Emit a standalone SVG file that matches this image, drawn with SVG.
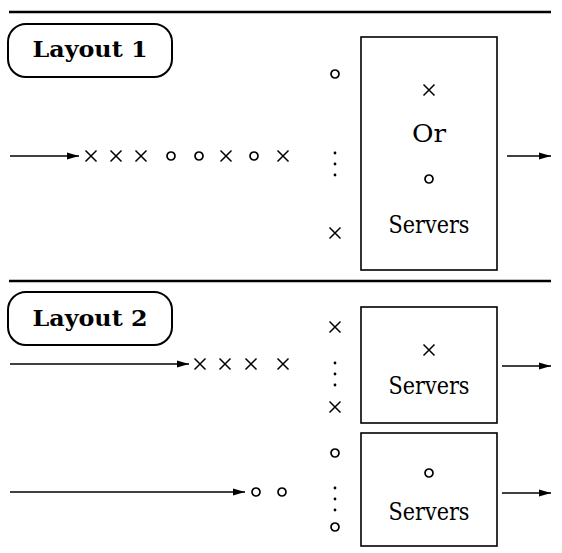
<svg xmlns="http://www.w3.org/2000/svg" width="562" height="553" viewBox="0 0 562 553">
  <style>
    .rule { stroke: #000; stroke-width: 2.5; }
    .frame { fill: none; stroke: #000; stroke-width: 1.6; }
    .tag { fill: none; stroke: #000; stroke-width: 2; }
    .flow { stroke: #000; stroke-width: 1.5; fill: none; }
    .title { font-family: "DejaVu Serif", serif; font-weight: bold; font-size: 23px; text-anchor: middle; }
    .label { font-family: "DejaVu Serif", serif; font-size: 25px; text-anchor: middle; }
  </style>
  <defs>
    <marker id="head" viewBox="0 0 12 8" refX="12" refY="4" markerWidth="12" markerHeight="8" markerUnits="userSpaceOnUse" orient="auto">
      <path d="M0,0.5 L12,4 L0,7.5 Z" fill="#000"/>
    </marker>
    <g id="cross"><path d="M-5.5,-5.5 L5.5,5.5 M5.5,-5.5 L-5.5,5.5" stroke="#000" stroke-width="1.5" fill="none"/></g>
    <g id="ring"><circle r="4" fill="none" stroke="#000" stroke-width="1.7"/></g>
    <g id="vdots">
      <circle cx="0" cy="-11" r="1.4" fill="#000"/>
      <circle cx="0" cy="0" r="1.4" fill="#000"/>
      <circle cx="0" cy="11" r="1.4" fill="#000"/>
    </g>
  </defs>

  <!-- section rules -->
  <line class="rule" x1="9" y1="12" x2="551" y2="12"/>
  <line class="rule" x1="9" y1="281" x2="551" y2="281"/>

  <!-- Layout 1 -->
  <g id="layout1-tag">
    <rect class="tag" x="8" y="24" width="164" height="53" rx="18"/>
    <text class="title" x="90" y="57" textLength="115" lengthAdjust="spacingAndGlyphs">Layout 1</text>
  </g>
  <g id="layout1-queue">
    <use href="#cross" x="91" y="156"/>
    <use href="#cross" x="116" y="156"/>
    <use href="#cross" x="141" y="156"/>
    <use href="#ring" x="171" y="156"/>
    <use href="#ring" x="199" y="156"/>
    <use href="#cross" x="226" y="156"/>
    <use href="#ring" x="254" y="156"/>
    <use href="#cross" x="283" y="156"/>
  </g>
  <g id="layout1-waiting">
    <use href="#ring" x="335" y="74"/>
    <use href="#vdots" x="335" y="164"/>
    <use href="#cross" x="335" y="233"/>
  </g>
  <g id="layout1-servers">
    <rect class="frame" x="361" y="37" width="136" height="233"/>
    <use href="#cross" x="429" y="90"/>
    <text class="label" x="429" y="142" textLength="34" lengthAdjust="spacingAndGlyphs">Or</text>
    <use href="#ring" x="429" y="179"/>
    <text class="label" x="429" y="233" textLength="81" lengthAdjust="spacingAndGlyphs">Servers</text>
  </g>

  <!-- Layout 2 -->
  <g id="layout2-tag">
    <rect class="tag" x="8" y="292" width="164" height="53" rx="18"/>
    <text class="title" x="90" y="326" textLength="115" lengthAdjust="spacingAndGlyphs">Layout 2</text>
  </g>
  <g id="layout2-queue-x">
    <use href="#cross" x="200" y="364"/>
    <use href="#cross" x="225" y="364"/>
    <use href="#cross" x="251" y="364"/>
    <use href="#cross" x="283" y="364"/>
  </g>
  <g id="layout2-waiting-x">
    <use href="#cross" x="335" y="327"/>
    <use href="#vdots" x="335" y="374"/>
    <use href="#cross" x="335" y="407"/>
  </g>
  <g id="layout2-servers-x">
    <rect class="frame" x="361" y="307" width="136" height="116"/>
    <use href="#cross" x="429" y="350"/>
    <text class="label" x="429" y="394" textLength="81" lengthAdjust="spacingAndGlyphs">Servers</text>
  </g>
  <g id="layout2-queue-o">
    <use href="#ring" x="256" y="492"/>
    <use href="#ring" x="282" y="492"/>
  </g>
  <g id="layout2-waiting-o">
    <use href="#ring" x="335" y="453"/>
    <use href="#vdots" x="335" y="499"/>
    <use href="#ring" x="335" y="527"/>
  </g>
  <g id="layout2-servers-o">
    <rect class="frame" x="361" y="433" width="136" height="113"/>
    <use href="#ring" x="429" y="473"/>
    <text class="label" x="429" y="520" textLength="81" lengthAdjust="spacingAndGlyphs">Servers</text>
  </g>

  <!-- connectors -->
  <g id="connectors">
    <line class="flow" x1="10" y1="156" x2="79" y2="156" marker-end="url(#head)"/>
    <line class="flow" x1="507" y1="156" x2="551" y2="156" marker-end="url(#head)"/>
    <line class="flow" x1="10" y1="364" x2="189" y2="364" marker-end="url(#head)"/>
    <line class="flow" x1="502" y1="366" x2="551" y2="366" marker-end="url(#head)"/>
    <line class="flow" x1="10" y1="492" x2="245" y2="492" marker-end="url(#head)"/>
    <line class="flow" x1="502" y1="493" x2="551" y2="493" marker-end="url(#head)"/>
  </g>
</svg>
